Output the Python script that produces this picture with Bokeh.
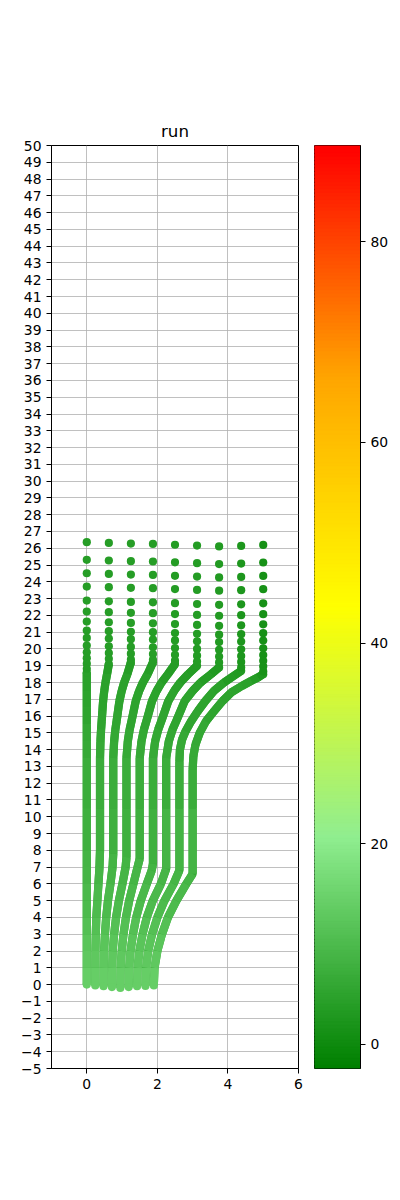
import numpy as np
from bokeh.plotting import figure
from bokeh.layouts import row
from bokeh.models import LinearColorMapper, FixedTicker, ColumnDataSource, Range1d
from bokeh.embed import file_html
from bokeh.resources import INLINE

# ---------------- data ----------------
# dense part of each of the 9 chains (control points along the band)
DENSE_X = [
    [0.0] * 16,
    [0.24, 0.242, 0.245, 0.255, 0.27, 0.30, 0.33, 0.36, 0.375, 0.375, 0.375, 0.3875, 0.405, 0.4225, 0.4425, 0.4625, 0.495, 0.53, 0.575, 0.625],
    [0.475, 0.48, 0.49, 0.515, 0.55, 0.60, 0.67, 0.73, 0.75, 0.75, 0.75, 0.775, 0.81, 0.845, 0.885, 0.925, 0.99, 1.06, 1.15, 1.25],
    [0.7125, 0.72, 0.735, 0.775, 0.83, 0.91, 1.01, 1.10, 1.125, 1.125, 1.125, 1.1625, 1.215, 1.2675, 1.3275, 1.3875, 1.485, 1.59, 1.725, 1.875],
    [0.95, 0.96, 0.99, 1.04, 1.11, 1.20, 1.32, 1.44, 1.50, 1.50, 1.50, 1.55, 1.62, 1.69, 1.77, 1.85, 1.98, 2.12, 2.30, 2.50],
    [1.1875, 1.20, 1.24, 1.31, 1.40, 1.53, 1.70, 1.84, 1.875, 1.875, 1.875, 1.9375, 2.025, 2.1125, 2.2125, 2.3125, 2.475, 2.65, 2.875, 3.125],
    [1.425, 1.44, 1.49, 1.58, 1.70, 1.87, 2.10, 2.25, 2.25, 2.25, 2.325, 2.43, 2.535, 2.655, 2.775, 3.0, 3.225, 3.525, 3.75],
    [1.6625, 1.68, 1.74, 1.85, 2.00, 2.20, 2.46, 2.625, 2.625, 2.625, 2.64, 2.70, 2.80, 2.96, 3.15, 3.36, 3.605, 3.885, 4.165, 4.375],
    [1.90, 1.92, 2.00, 2.13, 2.30, 2.54, 2.82, 3.00, 3.00, 3.00, 3.02, 3.08, 3.20, 3.38, 3.61, 3.85, 4.09, 4.40, 4.66, 4.85, 5.00],
]
DENSE_Y = [
    [0.0, 1, 2, 3, 4, 5, 6, 7, 8, 10.5, 13.5, 14.5, 15.5, 16.5, 17.5, 18.6],
    [-0.05, 1, 2, 3, 4, 5, 6, 7, 8, 10.5, 13.5, 14.5, 15.2, 15.7, 16.3, 16.9, 17.5, 18.0, 18.5, 19.1],
    [-0.1, 1, 2, 3, 4, 5, 6, 7, 7.8, 10.5, 13.5, 14.5, 15.2, 15.7, 16.3, 16.9, 17.5, 18.0, 18.5, 19.2],
    [-0.15, 1, 2, 3, 4, 5, 6, 7, 7.6, 10.5, 13.5, 14.5, 15.2, 15.7, 16.3, 16.9, 17.5, 18.0, 18.5, 19.2],
    [-0.2, 1, 2, 3, 4, 5, 6, 7, 7.5, 10.5, 13.5, 14.5, 15.2, 15.7, 16.3, 16.9, 17.5, 18.0, 18.5, 19.1],
    [-0.15, 1, 2, 3, 4, 5, 6, 6.8, 7.2, 10.5, 13.5, 14.5, 15.2, 15.7, 16.3, 16.9, 17.5, 18.0, 18.5, 19.0],
    [-0.1, 1, 2, 3, 4, 5, 6, 6.9, 10.5, 13.5, 14.5, 15.2, 15.7, 16.3, 16.9, 17.5, 18.0, 18.5, 18.9],
    [-0.08, 1, 2, 3, 4, 5, 6, 6.8, 10.5, 13.3, 14.0, 14.6, 15.1, 15.7, 16.3, 16.9, 17.5, 18.0, 18.4, 18.7],
    [-0.05, 1, 2, 3, 4, 5, 6, 6.6, 10.5, 12.8, 13.6, 14.3, 15.0, 15.7, 16.3, 16.9, 17.4, 17.8, 18.1, 18.3, 18.5],
]
DENSE_C = [
    [14, 13, 12, 11, 10, 9.5, 9, 8.5, 8, 7.2, 6.5, 6, 5.5, 5, 4.5, 4.5],
    [14, 13, 12, 11, 10, 9.5, 9, 8.5, 8, 7.2, 6.5, 6, 5.5, 5.5, 5, 5, 4.5, 4.5, 4, 4],
    [14, 13, 12, 11, 10, 9.5, 9, 8.5, 8, 7.2, 6.5, 6, 5.5, 5.5, 5, 5, 4.5, 4.5, 4, 4],
    [14, 13, 12, 11, 10, 9.5, 9, 8.5, 8, 7.2, 6.5, 6, 5.5, 5.5, 5, 5, 4.5, 4.5, 4, 4],
    [14, 13, 12, 11, 10, 9.5, 9, 8.5, 8, 7.2, 6.5, 6, 5.5, 5.5, 5, 5, 4.5, 4, 3.5, 3.5],
    [14, 13, 12, 11, 10, 9.5, 9, 8.5, 8, 7.2, 6.5, 6, 5.5, 5.5, 5, 5, 4.5, 4, 3.5, 3],
    [14, 13, 12, 11, 10, 9.5, 9, 8.5, 7.2, 6.5, 6, 5.5, 5.5, 5, 5, 4.5, 4, 3, 2.5],
    [14, 13, 12, 11, 10, 9.5, 9, 8.5, 7.2, 6.5, 6.5, 6, 5.5, 5.5, 5, 5, 4.5, 3.5, 3, 2],
    [14, 13, 12, 11, 10, 9.5, 9, 8.5, 7.2, 6.5, 6.5, 6, 6, 5.5, 5.5, 5, 5, 4.5, 3.5, 2.5, 1.5],
]
# sparse dots above the dense part
SPARSE_Y = [26.36, 25.31, 24.51, 23.72, 22.88, 22.23, 21.63, 21.10, 20.66, 20.20, 19.80, 19.45, 19.12, 18.82]
TOP_X = [0.0, 0.625, 1.25, 1.875, 2.5, 3.125, 3.75, 4.375, 5.0]
TOP_SHIFT = [0.0, 0.04, 0.08, 0.10, 0.15, 0.20, 0.25, 0.22, 0.16]
SPARSE_C = [4, 4, 4, 4, 3.5, 3.5, 3, 2.5, 1.5]

CB_LOW, CB_HIGH = -2.4, 89.6
CB_TICKS = [0, 20, 40, 60, 80]
Y_TICKS = list(range(-5, 51))
X_TICKS = [0, 2, 4, 6]

FONT = "DejaVu Sans"
FS = "13.9px"

# ---------------- colormap ----------------
stops = [(0.0, (0, 128, 0)), (0.25, (144, 238, 144)), (0.5, (255, 255, 0)),
         (0.75, (255, 165, 0)), (1.0, (255, 0, 0))]
pal = []
for k in range(256):
    t = k / 255
    for (t0, c0), (t1, c1) in zip(stops[:-1], stops[1:]):
        if t0 <= t <= t1:
            f = (t - t0) / (t1 - t0)
            rgb = [int(round(a + (b - a) * f)) for a, b in zip(c0, c1)]
            pal.append("#%02x%02x%02x" % tuple(rgb))
            break
mapper = LinearColorMapper(palette=pal, low=CB_LOW, high=CB_HIGH)


def style_axis(ax):
    ax.major_label_text_font = FONT
    ax.major_label_text_font_size = FS
    ax.major_label_text_color = "black"
    ax.major_tick_in = 0
    ax.major_tick_out = 5
    ax.minor_tick_out = 0
    ax.minor_tick_in = 0
    ax.axis_line_color = "black"
    ax.major_tick_line_color = "black"


# ---------------- main figure ----------------
p = figure(width=314, height=1200, x_range=Range1d(-1, 6), y_range=Range1d(-5, 50),
           output_backend="svg", toolbar_location=None, title="run",
           min_border_left=51, min_border_right=16, min_border_top=145, min_border_bottom=132)
p.title.align = "center"
p.title.text_font = FONT
p.title.text_font_size = "16.7px"
p.title.text_font_style = "normal"
p.title.text_color = "black"
style_axis(p.xaxis)
style_axis(p.yaxis)
p.xaxis.ticker = FixedTicker(ticks=X_TICKS)
p.yaxis.ticker = FixedTicker(ticks=Y_TICKS)
p.yaxis.major_label_overrides = {i: "\u2212" + str(-i) for i in Y_TICKS if i < 0}
p.grid.grid_line_color = "#b0b0b0"
p.grid.grid_line_width = 0.8
p.outline_line_color = "black"
p.outline_line_width = 1

W = 8.2
# underlay: one continuous band per chain (fills the joints)
under = ColumnDataSource(dict(xs=DENSE_X, ys=DENSE_Y, c=[cc[len(cc) // 2] for cc in DENSE_C]))
p.multi_line("xs", "ys", source=under, line_width=W, line_cap="butt", line_join="round",
             line_color={"field": "c", "transform": mapper})

# coloured pieces of every band
xs, ys, cs = [], [], []
for cx, cy, cc in zip(DENSE_X, DENSE_Y, DENSE_C):
    for k in range(len(cx) - 1):
        xs.append([cx[k], cx[k + 1]])
        ys.append([cy[k], cy[k + 1]])
        cs.append(cc[k])
seg = ColumnDataSource(dict(xs=xs, ys=ys, c=cs))
p.multi_line("xs", "ys", source=seg, line_width=W, line_cap="butt",
             line_color={"field": "c", "transform": mapper})

# rounded ends of every band
ex, ey, ec = [], [], []
for cx, cy, cc in zip(DENSE_X, DENSE_Y, DENSE_C):
    ex += [cx[0], cx[-1]]; ey += [cy[0], cy[-1]]; ec += [cc[0], cc[-2]]
p.scatter("x", "y", source=ColumnDataSource(dict(x=ex, y=ey, c=ec)), size=W, line_color=None,
          fill_color={"field": "c", "transform": mapper})

# sparse dots
sx, sy, sc = [], [], []
for i, (tx, sh, c) in enumerate(zip(TOP_X, TOP_SHIFT, SPARSE_C)):
    top_dense = DENSE_Y[i][-1]
    for yv in SPARSE_Y:
        y = yv - sh
        if y > top_dense + 0.1:
            sx.append(tx); sy.append(y); sc.append(c)
src_sp = ColumnDataSource(dict(x=sx, y=sy, c=sc))
p.scatter("x", "y", source=src_sp, size=W, line_color=None,
          fill_color={"field": "c", "transform": mapper})

# ---------------- colour bar as its own small figure ----------------
cbf = figure(width=86, height=1200, x_range=Range1d(0, 1), y_range=Range1d(CB_LOW, CB_HIGH),
             output_backend="svg", toolbar_location=None, y_axis_location="right",
             min_border_left=0, min_border_right=40, min_border_top=145, min_border_bottom=132)
cbf.xaxis.visible = False
cbf.grid.visible = False
style_axis(cbf.yaxis)
cbf.yaxis.ticker = FixedTicker(ticks=CB_TICKS)
step = (CB_HIGH - CB_LOW) / len(pal)
cb_src = ColumnDataSource(dict(
    bottom=[CB_LOW + k * step for k in range(len(pal))],
    top=[CB_LOW + (k + 1.6) * step for k in range(len(pal))],
    color=pal))
cbf.quad(left=0, right=1, bottom="bottom", top="top", fill_color="color",
         line_color="color", line_width=0.6, source=cb_src)
cbf.outline_line_color = "black"
cbf.outline_line_width = 1

layout = row(p, cbf, spacing=0)
open("out.html", "w").write(file_html(layout, INLINE))
